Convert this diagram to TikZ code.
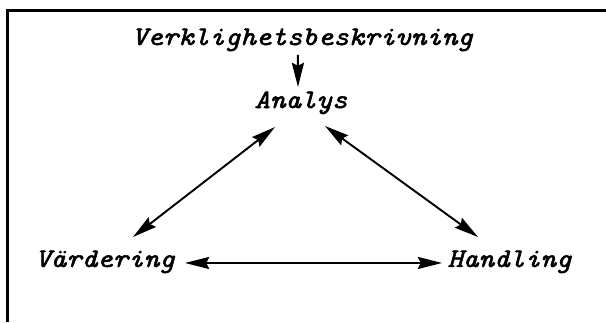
\documentclass[tikz,border=0pt]{standalone}
\usepackage{fontspec}
\newfontfamily\termfont[FakeStretch=1.1,FakeBold=2]{lmmono10-italic.otf}
\usetikzlibrary{arrows.meta}

\tikzset{
  term/.style={font=\termfont\fontsize{12.6}{15}\selectfont, inner sep=0pt, anchor=base},
  link/.style={line width=0.9pt}
}

\begin{document}
\begin{tikzpicture}[>={Stealth[length=0.4cm,width=0.2cm,inset=0.05cm]}]
            \useasboundingbox (0,0) rectangle (10,5.3135);
            % Frame: left and top edge only
            \draw[line width=1pt] (0.124,0) |- (10,5.14);
            % Terms
            \node[term] (verk) at (4.99,4.571) {Verklighetsbeskrivning};
            \node[term] (analys) at (4.967,3.531) {Analys};
            \node[term] (vard) at (1.733,0.908) {Värdering};
            \node[term] (hand) at (8.408,0.908) {Handling};
            % Description feeds the analysis
            \draw[link,->] ([shift={(-0.074,-0.165)}]verk.base) -- ([shift={(-0.05,0.347)}]analys.base);
            % Triangle of two-way arrows
            \draw[link,<->] ([shift={(-0.429,-0.314)}]analys.base) -- ([shift={(0.462,0.495)}]vard.base);
            \draw[link,<->] ([shift={(0.396,-0.297)}]analys.base) -- ([shift={(-0.52,0.495)}]hand.base);
            \draw[link,<->] ([shift={(1.32,0.066)}]vard.base) -- ([shift={(-1.114,0.066)}]hand.base);
        \end{tikzpicture}
\end{document}
